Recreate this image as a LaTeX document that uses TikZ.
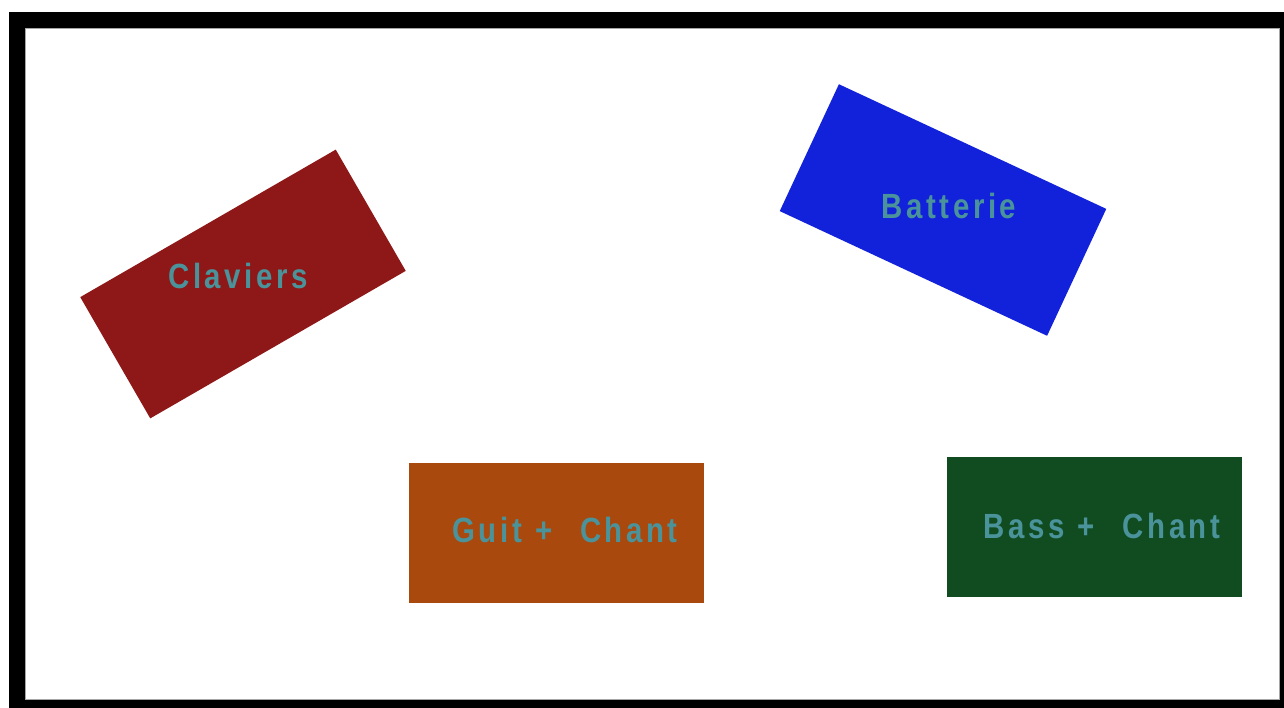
\documentclass[tikz,border=0pt]{standalone}
\usepackage{fontspec}
\setmainfont{Liberation Sans}
\usepackage{tikz}

\definecolor{clavred}{HTML}{8E1717}
\definecolor{battblue}{HTML}{1122DA}
\definecolor{guitorange}{HTML}{A9490E}
\definecolor{bassgreen}{HTML}{114B20}
\definecolor{labelteal}{HTML}{4A939B}

\begin{document}
\begin{tikzpicture}[x=1pt, y=-1pt]
	\tikzstyle{every node}+=[inner sep=0pt]
	\tikzstyle{stage}=[draw=none, minimum width=295pt, minimum height=140pt]
	\tikzstyle{instr}=[text=labelteal, xscale=0.84, font=\fontsize{35}{40}\selectfont\bfseries\addfontfeatures{LetterSpace=12}]
	\useasboundingbox (0,0) rectangle (1284,708);
	\fill [black] (9,12) rectangle (1284,708);
	\fill [white] (25,28) rectangle (1279,699);
	\draw [gray!70, line width=0.6pt] (25,28) rectangle (1279,699);
	\node [stage, fill=clavred, rotate=30] (claviers) at (243,284) {};
	\node [instr] (claviers-txt) at (238,276) {Claviers};
	\node [stage, fill=battblue, rotate=-25] (batterie) at (943,210) {};
	\node [instr] (batterie-txt) at (949,206) {Batterie};
	\node [stage, fill=guitorange] (guit) at (556.5,533) {};
	\node [instr] (guit-txt) at (565,530) {Guit\hspace{0.45em}+\hspace{0.95em}Chant};
	\node [stage, fill=bassgreen] (bass) at (1094.5,527) {};
	\node [instr] (bass-txt) at (1102,526) {Bass\hspace{0.45em}+\hspace{0.95em}Chant};
\end{tikzpicture}
\end{document}
